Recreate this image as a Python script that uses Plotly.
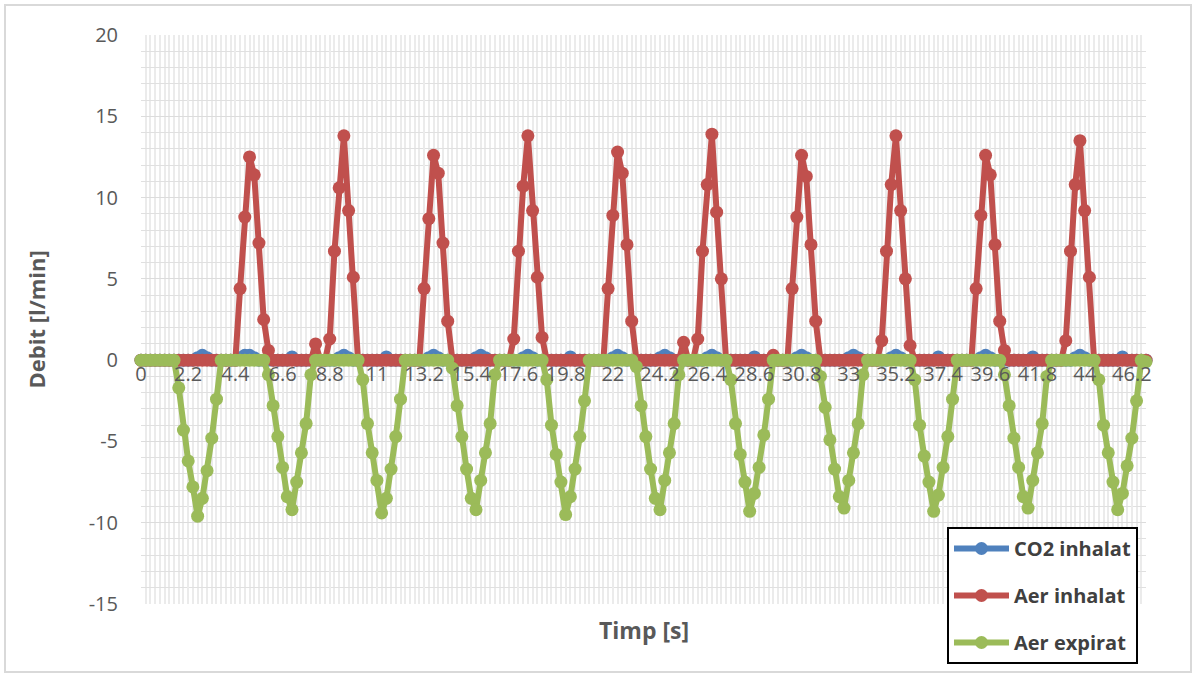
import plotly.graph_objects as go

# ---- data ----
co2_inhalat = [
    0, 0, 0, 0, 0, 0, 0, 0, 0, 0,
    0, 0, 0.15, 0.3, 0.15, 0, 0, 0, 0, 0,
    0, 0.15, 0.3, 0.3, 0.15, 0, 0, 0, 0, 0,
    0, 0, 0.2, 0, 0, 0, 0, 0, 0, 0,
    0, 0, 0.15, 0.3, 0.15, 0, 0, 0, 0, 0,
    0, 0, 0.2, 0, 0, 0, 0, 0, 0, 0,
    0, 0.15, 0.3, 0.15, 0, 0, 0, 0, 0, 0,
    0, 0.15, 0.3, 0.15, 0, 0, 0, 0, 0, 0,
    0, 0.15, 0.3, 0.15, 0, 0, 0, 0, 0, 0,
    0, 0.2, 0, 0, 0, 0, 0, 0, 0, 0,
    0.15, 0.3, 0.15, 0, 0, 0, 0, 0, 0, 0,
    0.15, 0.3, 0.15, 0, 0, 0, 0, 0, 0, 0,
    0.15, 0.3, 0.15, 0, 0, 0, 0, 0, 0, 0,
    0.2, 0, 0, 0, 0, 0, 0, 0, 0, 0.15,
    0.3, 0.15, 0, 0, 0, 0, 0, 0, 0, 0,
    0.15, 0.3, 0.15, 0, 0, 0, 0, 0, 0, 0.15,
    0.3, 0.15, 0, 0, 0, 0, 0, 0, 0, 0.2,
    0, 0, 0, 0, 0, 0, 0, 0, 0.15, 0.3,
    0.15, 0, 0, 0, 0, 0, 0, 0, 0, 0.2,
    0, 0, 0, 0, 0, 0, 0, 0, 0.15, 0.3,
    0.15, 0, 0, 0, 0, 0, 0, 0, 0.2, 0,
    0, 0, 0, 0,
]

aer_inhalat = [
    0, 0, 0, 0, 0, 0, 0, 0, 0, 0,
    0, 0, 0, 0, 0, 0, 0, 0, 0, 0,
    0, 4.4, 8.8, 12.5, 11.4, 7.2, 2.5, 0.6, 0, 0,
    0, 0, 0, 0, 0, 0, 0, 1.0, 0, 0,
    1.3, 6.7, 10.6, 13.8, 9.2, 5.1, 0, 0, 0, 0,
    0, 0, 0, 0, 0, 0, 0, 0, 0, 0,
    4.4, 8.7, 12.6, 11.5, 7.2, 2.4, 0, 0, 0, 0,
    0, 0, 0, 0, 0, 0, 0, 0, 0, 1.3,
    6.7, 10.7, 13.8, 9.2, 5.1, 1.4, 0, 0, 0, 0,
    0, 0, 0, 0, 0, 0, 0, 0, 0, 4.4,
    8.9, 12.8, 11.5, 7.1, 2.4, 0, 0, 0, 0, 0,
    0, 0, 0, 0, 0, 1.1, 0, 0, 1.3, 6.7,
    10.8, 13.9, 9.1, 5.0, 0, 0, 0, 0, 0, 0,
    0, 0, 0, 0, 0.3, 0, 0, 0, 4.4, 8.8,
    12.6, 11.3, 7.1, 2.4, 0, 0, 0, 0, 0, 0,
    0, 0, 0, 0, 0, 0, 0, 1.2, 6.7, 10.8,
    13.8, 9.2, 5.0, 0.9, 0, 0, 0, 0, 0, 0,
    0, 0, 0, 0, 0, 0, 0, 4.4, 8.9, 12.6,
    11.4, 7.1, 2.4, 0.6, 0, 0, 0, 0, 0, 0,
    0, 0, 0, 0, 0, 0, 1.2, 6.7, 10.8, 13.5,
    9.2, 5.1, 0, 0, 0, 0, 0, 0, 0, 0,
    0, 0, 0, 0,
]

aer_expirat = [
    0, 0, 0, 0, 0, 0, 0, 0, -1.7, -4.3,
    -6.2, -7.8, -9.6, -8.5, -6.8, -4.8, -2.4, 0, 0, 0,
    0, 0, 0, 0, 0, 0, 0, -0.9, -2.8, -4.7,
    -6.6, -8.4, -9.2, -7.5, -5.7, -3.9, -0.9, 0, 0, 0,
    0, 0, 0, 0, 0, 0, 0, -1.2, -3.9, -5.7,
    -7.4, -9.4, -8.5, -6.7, -4.7, -2.4, 0, 0, 0, 0,
    0, 0, 0, 0, 0, 0, -0.5, -2.8, -4.7, -6.7,
    -8.5, -9.2, -7.4, -5.7, -3.9, -0.9, 0, 0, 0, 0,
    0, 0, 0, 0, 0, 0, -1.2, -4.0, -5.8, -7.5,
    -9.5, -8.4, -6.7, -4.7, -2.5, 0, 0, 0, 0, 0,
    0, 0, 0, 0, 0, -0.4, -2.8, -4.7, -6.7, -8.5,
    -9.2, -7.4, -5.7, -3.9, -0.9, 0, 0, 0, 0, 0,
    0, 0, 0, 0, 0, -1.2, -3.9, -5.8, -7.5, -9.3,
    -8.2, -6.6, -4.6, -2.4, 0, 0, 0, 0, 0, 0,
    0, 0, 0, 0, -1.0, -2.9, -4.9, -6.7, -8.4, -9.1,
    -7.4, -5.7, -3.9, -0.9, 0, 0, 0, 0, 0, 0,
    0, 0, 0, 0, -1.2, -4.0, -5.9, -7.5, -9.3, -8.3,
    -6.6, -4.7, -2.4, 0, 0, 0, 0, 0, 0, 0,
    0, 0, 0, -0.9, -2.8, -4.8, -6.6, -8.4, -9.1, -7.4,
    -5.7, -3.9, -1.0, 0, 0, 0, 0, 0, 0, 0,
    0, 0, 0, -1.2, -4.0, -5.7, -7.5, -9.2, -8.2, -6.5,
    -4.8, -2.5, 0, -0.1,
]

# time axis (sampling step 0.22 s) and the labels shown every 10th sample
time_step = 0.22
times = [round(i * time_step, 2) for i in range(len(aer_inhalat))]
tick_labels = ["0", "2.2", "4.4", "6.6", "8.8", "11", "13.2", "15.4", "17.6",
               "19.8", "22", "24.2", "26.4", "28.6", "30.8", "33", "35.2",
               "37.4", "39.6", "41.8", "44", "46.2"]
tick_positions = times[::10][:len(tick_labels)]

y_tick_values = [-15, -10, -5, 0, 5, 10, 15, 20]
y_tick_labels = ["-15", "-10", "-5", "0", "5", "10", "15", "20"]

series_names = ["CO2 inhalat", "Aer inhalat", "Aer expirat"]
series_values = [co2_inhalat, aer_inhalat, aer_expirat]
series_colors = ["#4F81BD", "#C0504D", "#9BBB59"]

FONT = "Open Sans"
TXT = "#595959"

fig = go.Figure()
for name, vals, col in zip(series_names, series_values, series_colors):
    fig.add_trace(go.Scatter(
        x=times, y=vals, name=name, mode="lines+markers",
        line=dict(color=col, width=6),
        marker=dict(color=col, size=13),
        legendgroup=name, cliponaxis=False,
    ))

W, H = 1196, 677
L, R, T, B = 141, 50, 35, 73
pw = W - L - R
ph = H - T - B

def px_x(x):
    return (x - L) / pw

def px_y(y):
    return (H - B - y) / ph

fig.update_layout(
    width=W, height=H,
    margin=dict(l=L, r=R, t=T, b=B, pad=0),
    paper_bgcolor="white", plot_bgcolor="white",
    font=dict(family=FONT, color=TXT, size=20),
    showlegend=True,
    legend=dict(
        x=px_x(947), y=px_y(527), xanchor="left", yanchor="top",
        bgcolor="white", bordercolor="black", borderwidth=2,
        font=dict(family=FONT, size=20, color="#404040", weight="bold"),
        itemwidth=55, tracegroupgap=18, traceorder="grouped",
    ),
    xaxis=dict(
        type="linear", range=[times[0], times[-1]],
        tickmode="array", tickvals=tick_positions, ticktext=tick_labels,
        tickangle=0, ticks="", showline=False, zeroline=False,
        anchor="free", position=15 / 35,
        showgrid=True, gridcolor="#ebebeb", gridwidth=2,
        minor=dict(tick0=0, dtick=time_step, showgrid=True,
                   gridcolor="#ebebeb", gridwidth=2),
        tickfont=dict(family=FONT, size=20, color=TXT),
        domain=[0, 1],
    ),
    yaxis=dict(
        range=[-15, 20], tickmode="array",
        tickvals=y_tick_values, ticktext=y_tick_labels,
        ticks="", showline=False, zeroline=False,
        showgrid=True, gridcolor="#dcdcdc", gridwidth=1,
        minor=dict(dtick=1, showgrid=True, gridcolor="#e0e0e0", gridwidth=1),
        tickfont=dict(family=FONT, size=20, color=TXT),
        ticklabelstandoff=22,
        domain=[0, 1],
    ),
    annotations=[
        dict(text="<b>Debit [l/min]</b>", xref="paper", yref="paper",
             x=px_x(35), y=0.5, xanchor="center", yanchor="middle",
             textangle=-90, showarrow=False,
             font=dict(family=FONT, size=22, color=TXT)),
        dict(text="<b>Timp [s]</b>", xref="paper", yref="paper",
             x=0.5, y=px_y(630), xanchor="center", yanchor="middle",
             showarrow=False, font=dict(family=FONT, size=23, color=TXT)),
    ],
    shapes=[
        dict(type="rect", xref="paper", yref="paper",
             x0=px_x(5), x1=px_x(1191), y0=px_y(672), y1=px_y(5),
             line=dict(color="#d9d9d9", width=2), layer="below"),
    ],
)

fig.write_html("out.html", config={"displayModeBar": False},
               post_script="document.body.style.margin='0';")
